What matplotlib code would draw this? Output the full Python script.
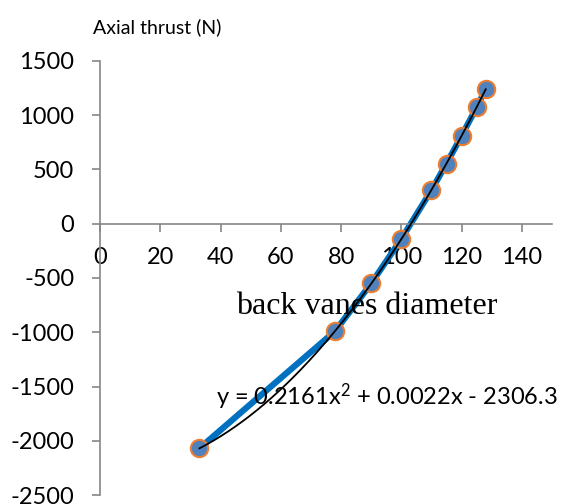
import numpy as np
import matplotlib.pyplot as plt

# Values
diameter = [33, 78, 90, 100, 110, 115, 120, 125, 128]
thrust = [-2070, -990, -550, -140, 310, 555, 810, 1075, 1240]
x_ticks = [0, 20, 40, 60, 80, 100, 120, 140]
y_ticks = [-2500, -2000, -1500, -1000, -500, 0, 500, 1000, 1500]
equation = "y = 0.2161x$^2$ + 0.0022x - 2306.3"

plt.rcParams['font.family'] = ['Lato', 'DejaVu Sans']
plt.rcParams['axes.unicode_minus'] = False
plt.rcParams['mathtext.default'] = 'regular'

fig = plt.figure(figsize=(5.67, 5.04), dpi=100)
ax = fig.add_axes([100 / 567, 1 - 495 / 504, 452 / 567, 434 / 504])

# data line + markers
ax.plot(diameter, thrust, color='#0070C0', lw=4.5, zorder=2)
ax.plot(diameter, thrust, 'o', ms=12.5, mfc='#4F81BD', mec='#ED7D31', mew=1.5, zorder=3)

# polynomial trendline
coef = np.polyfit(diameter, thrust, 2)
xs = np.linspace(min(diameter), max(diameter), 200)
ax.plot(xs, np.polyval(coef, xs), color='black', lw=1.3, zorder=4)

ax.set_xlim(0, 150)
ax.set_ylim(-2500, 1500)
ax.set_xticks(x_ticks)
ax.set_yticks(y_ticks)

for s in ['top', 'right']:
    ax.spines[s].set_visible(False)
ax.spines['bottom'].set_position(('data', 0))
for s in ['left', 'bottom']:
    ax.spines[s].set_color('#868686')
    ax.spines[s].set_linewidth(1.2)
ax.tick_params(color='#868686', length=5.5, width=1.2, labelsize=17)
ax.tick_params(axis='x', pad=11)
ax.tick_params(axis='y', pad=13)

fig.text(93 / 567, 1 - 27 / 504, 'Axial thrust (N)', fontsize=14, va='center', ha='left')
fig.text(367 / 567, 1 - 306 / 504, 'back vanes diameter', fontsize=23,
         family='Liberation Serif', va='center', ha='center')
fig.text(387 / 567, 1 - 397 / 504, equation, fontsize=17, va='center', ha='center')

fig.savefig('out.png', dpi=100)
